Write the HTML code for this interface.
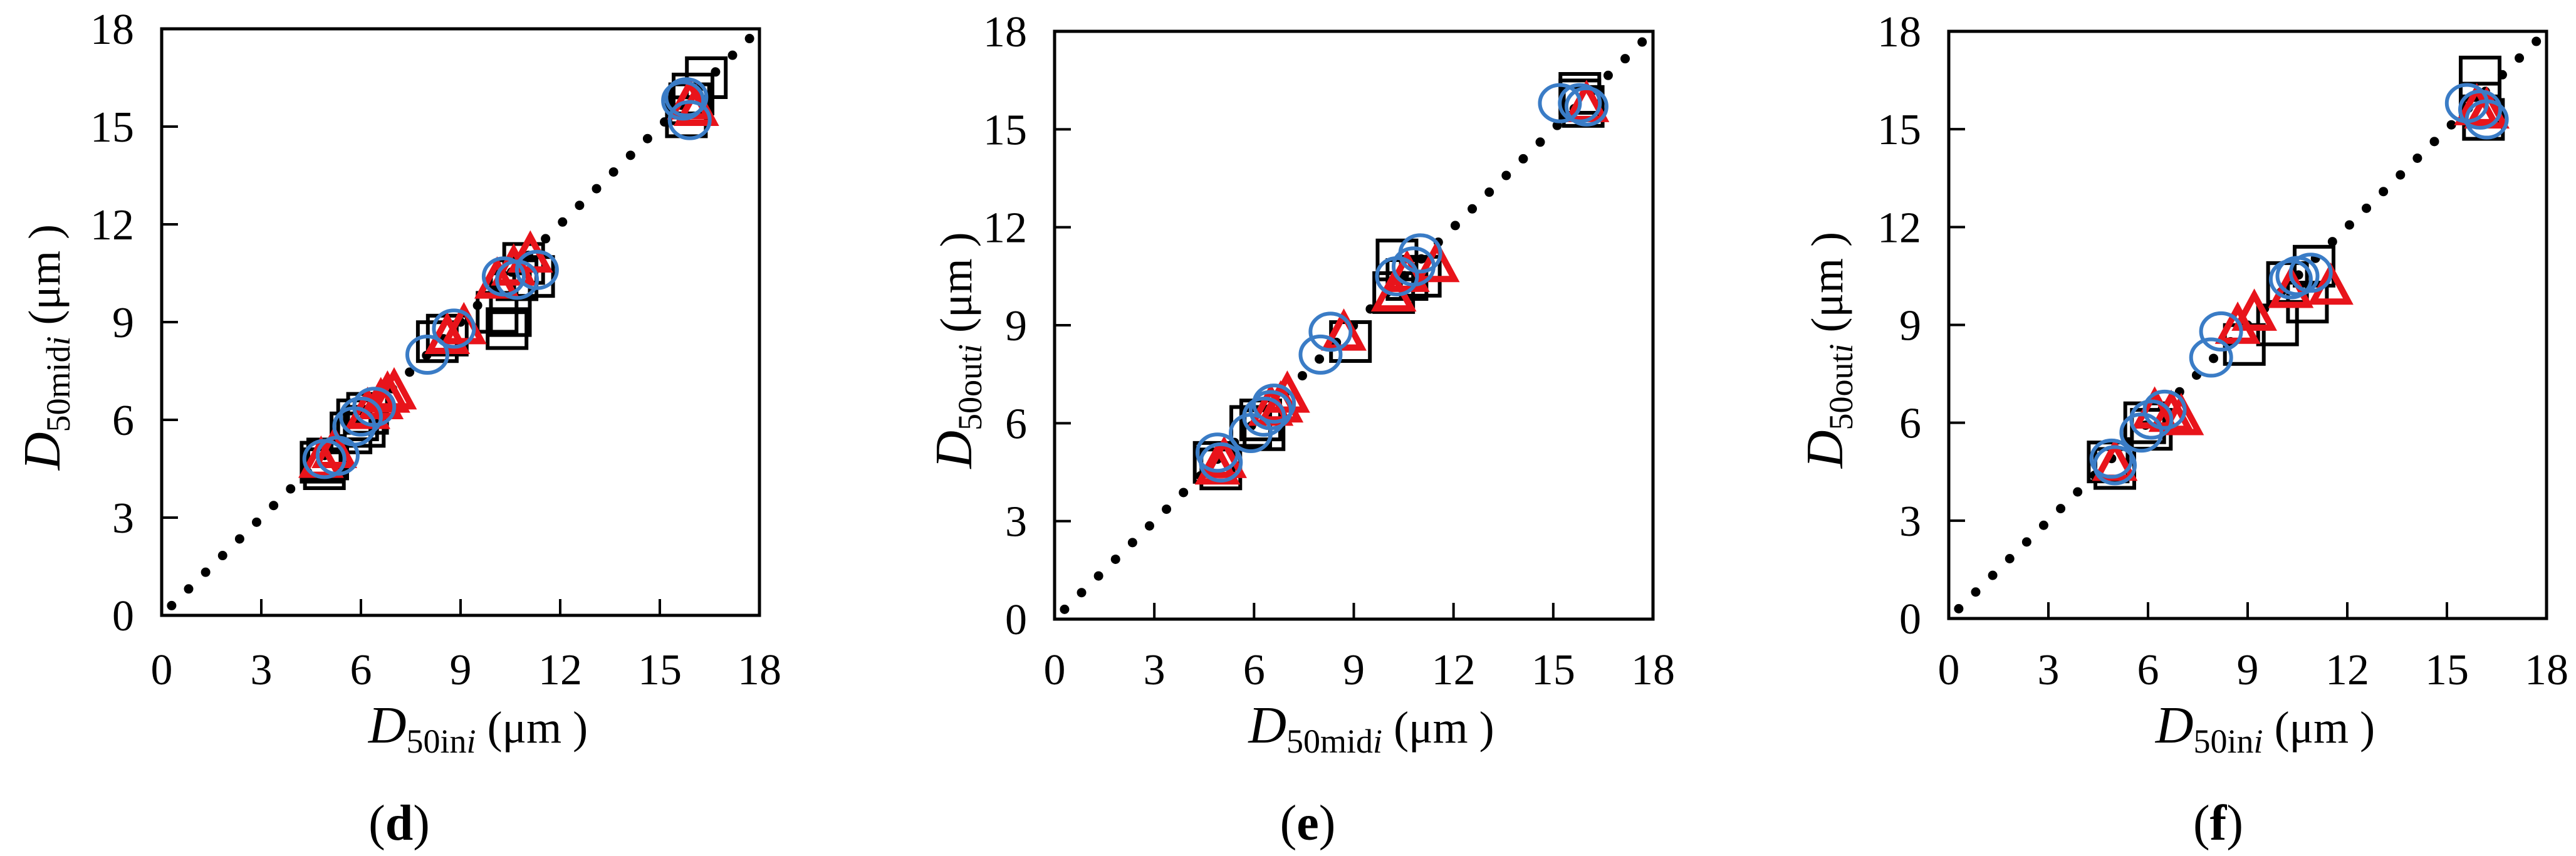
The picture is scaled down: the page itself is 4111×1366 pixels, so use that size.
<!DOCTYPE html>
<html><head><meta charset="utf-8">
<style>
html,body{margin:0;padding:0;background:#fff;}
svg{display:block;}
svg text{font-family:"Liberation Serif","Times New Roman","Noto Serif CJK SC","DejaVu Serif",serif;fill:#000;}
</style></head>
<body>
<svg id="fig" width="4111" height="1366" viewBox="0 0 4111 1366" xmlns="http://www.w3.org/2000/svg"></svg>
<script>
const ticks=[0,3,6,9,12,15,18];
const tickLabels=["0","3","6","9","12","15","18"];
const panelIds=["d","e","f"];
const xTitles=["50ini","50midi","50ini"];
const yTitles=["50midi","50outi","50outi"];
// panel d
const dSqX=[4.8,4.9,5.0,5.7,5.9,6.1,6.2,8.3,8.6,10.1,10.4,10.5,10.5,10.7,10.9,11.2,15.8,15.9,16.0,16.4];
const dSqY=[4.7,4.5,4.8,5.6,6.0,5.8,6.2,8.4,8.6,9.3,8.8,9.2,9.9,10.3,10.8,10.4,15.3,15.7,16.0,16.5];
const dTrX=[4.8,5.2,6.2,6.6,6.8,7.0,8.6,9.1,10.1,10.6,11.1,15.9,16.1];
const dTrY=[4.7,5.0,6.2,6.5,6.7,6.8,8.5,8.8,10.2,10.6,11.0,15.7,15.5];
const dCiX=[4.9,5.3,5.8,6.0,6.4,8.0,8.8,10.3,10.7,11.3,15.7,15.9,15.8];
const dCiY=[4.8,4.9,5.8,6.1,6.4,8.0,8.8,10.4,10.3,10.6,15.8,15.2,15.9];
// panel e
const eSqX=[4.8,5.0,5.9,6.2,6.3,8.9,10.2,10.3,10.6,11.0,15.8,15.9,15.8];
const eSqY=[4.8,4.6,5.9,6.1,5.8,8.5,10.0,11.0,10.4,10.5,15.9,15.7,16.1];
const eTrX=[4.9,5.1,6.5,6.8,7.0,8.7,10.2,10.6,11.5,16.0];
const eTrY=[4.6,4.8,6.4,6.5,6.8,8.7,9.9,10.5,10.8,15.7];
const eCiX=[4.9,5.0,5.9,6.3,6.5,6.6,8.0,8.3,10.3,10.8,11.0,15.2,15.8,16.0];
const eCiY=[5.1,4.8,5.7,6.2,6.4,6.6,8.1,8.8,10.5,10.8,11.2,15.8,15.8,15.7];
// panel f
const fSqX=[4.8,5.0,5.9,6.1,8.9,9.9,10.2,10.8,11.0,16.0,16.0,16.1];
const fSqY=[4.8,4.6,6.0,5.8,8.4,9.0,10.3,9.7,10.8,16.6,15.8,15.3];
const fTrX=[5.0,6.2,6.7,7.0,8.7,9.2,10.3,11.5,15.9,16.2];
const fTrY=[4.7,6.3,6.2,6.1,8.9,9.3,10.0,10.1,15.6,15.5];
const fCiX=[4.9,5.0,5.8,6.1,6.5,7.9,8.2,10.3,10.5,10.9,15.6,16.0,16.2];
const fCiY=[4.9,4.7,5.7,6.1,6.4,8.0,8.8,10.4,10.5,10.6,15.8,15.6,15.3];

const series=[
 {sq:[dSqX,dSqY],tr:[dTrX,dTrY],ci:[dCiX,dCiY]},
 {sq:[eSqX,eSqY],tr:[eTrX,eTrY],ci:[eCiX,eCiY]},
 {sq:[fSqX,fSqY],tr:[fTrX,fTrY],ci:[fCiX,fCiY]}
];
const layout=[
 {x0:258,x1:1212,y0:982,y1:46,ylx:67,lab:637},
 {x0:1683,x1:2638,y0:988,y1:50,ylx:1522,lab:2087},
 {x0:3110,x1:4064,y0:987,y1:50,ylx:2912,lab:3540}
];
const NS="http://www.w3.org/2000/svg";
const svg=document.getElementById("fig");
function mk(tag,attrs,parent){const e=document.createElementNS(NS,tag);for(const k in attrs)e.setAttribute(k,attrs[k]);(parent||svg).appendChild(e);return e;}

layout.forEach((L,pi)=>{
 const g=mk("g",{});
 
 
 const sx=v=>L.x0+(L.x1-L.x0)*v/18;
 const sy=v=>L.y0-(L.y0-L.y1)*v/18;
 const ln=mk("line",{x1:sx(0.3),y1:sy(0.3),x2:sx(18),y2:sy(18),stroke:"#000","stroke-width":15,"stroke-linecap":"round","stroke-dasharray":"0 38"},g);
 
 
 const S=series[pi];
 S.sq[0].forEach((xv,i)=>{
  const r=mk("rect",{x:sx(xv)-31,y:sy(S.sq[1][i])-31,width:62,height:62,fill:"none",stroke:"#000","stroke-width":6},g);
  
  
 });
 S.tr[0].forEach((xv,i)=>{
  const cx=sx(xv),cy=sy(S.tr[1][i]);
  const p=mk("polygon",{points:`${cx},${cy-32} ${cx-28},${cy+20} ${cx+28},${cy+20}`,fill:"none",stroke:"#e8141b","stroke-width":10,"stroke-linejoin":"miter"},g);
  
  
 });
 S.ci[0].forEach((xv,i)=>{
  const c=mk("ellipse",{cx:sx(xv),cy:sy(S.ci[1][i]),rx:32,ry:29,fill:"none",stroke:"#3a7cc6","stroke-width":6},g);
  
  
 });
 const fr=mk("rect",{x:L.x0,y:L.y1,width:L.x1-L.x0,height:L.y0-L.y1,fill:"none",stroke:"#000","stroke-width":5},g);
 
 
 ticks.forEach((t,i)=>{
  if(t>0&&t<18){
   const tx=mk("line",{x1:sx(t),x2:sx(t),y1:L.y0,y2:L.y0-26,stroke:"#000","stroke-width":4},g);
   
   
   const ty=mk("line",{x1:L.x0,x2:L.x0+26,y1:sy(t),y2:sy(t),stroke:"#000","stroke-width":4},g);
   
   
  }
  const xl=mk("text",{x:sx(t),y:1092,"font-size":70,"text-anchor":"middle"},g);
  xl.textContent=tickLabels[i];
  
  
  const yl=mk("text",{x:L.x0-44,y:sy(t)+24,"font-size":70,"text-anchor":"end"},g);
  yl.textContent=tickLabels[i];
  
  
 });
 const tpl=(sub)=>`<tspan font-style="italic">D</tspan><tspan font-size="54" dy="16">${sub.slice(0,-1)}</tspan><tspan font-size="54" font-style="italic">i</tspan><tspan dy="-16" font-size="72">  (μm )</tspan>`;
 const cxm=(L.x0+L.x1)/2+28;
 const xt=mk("text",{x:cxm,y:1185,"font-size":84,"text-anchor":"middle"},g);
 
 
 xt.innerHTML=tpl(xTitles[pi]);
 const yt=mk("text",{x:0,y:0,"font-size":84,"text-anchor":"middle",transform:`translate(${L.ylx+28},${(L.y0+L.y1)/2+40}) rotate(-90)`},g);
 
 
 yt.innerHTML=tpl(yTitles[pi]);
 const pl=mk("text",{x:L.lab,y:1340,"font-size":80,"text-anchor":"middle"},g);
 
 
 pl.innerHTML=`(<tspan font-weight="bold">${panelIds[pi]}</tspan>)`;
});
</script>
</body></html>
